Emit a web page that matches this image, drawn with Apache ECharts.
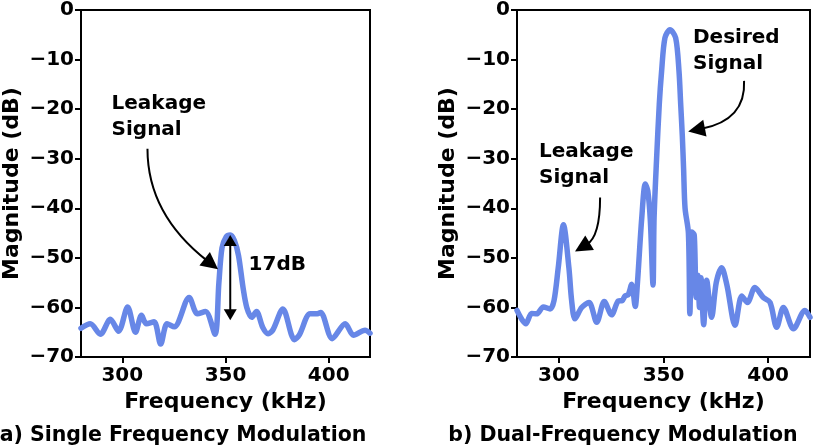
<!DOCTYPE html>
<html>
<head>
<meta charset="utf-8">
<script src="https://cdn.jsdelivr.net/npm/echarts@6/dist/echarts.min.js"></script>
<style>
  body { margin: 0; background: #fff; }
  #main { width: 820px; height: 447px; }
</style>
</head>
<body>
<div id="main"></div>
<script>
// spectrum a) single frequency modulation
const freqA = [280, 284.5, 289.4, 294.2, 298.2, 302.6, 306.4, 309.3, 311.7, 315.4, 318.6, 321.7, 325.2,
  332.4, 336.4, 340.3, 344.9, 346.8, 348.3, 350.3, 352.3, 354.3, 356.3, 358.5, 360.3, 362.7, 365.0,
  368.0, 370.6, 373.0, 377.8, 383.4, 385.7, 391.0, 394.5, 396.1, 401.7, 408.0, 412.0, 417.6, 420];
const magA = [-64.2, -63.3, -65.4, -62.4, -64.8, -59.9, -65.0, -61.6, -63.3, -62.9, -67.4, -63.3, -63.9,
  -58.0, -61.3, -60.8, -65.4, -55.0, -48.0, -45.8, -45.4, -46.5, -49.5, -56.0, -60.0, -62.0, -60.8,
  -64.0, -65.3, -64.5, -60.3, -66.5, -65.6, -61.3, -61.3, -61.0, -66.3, -63.3, -65.6, -64.6, -65.2];

// spectrum b) dual-frequency modulation
const freqB = [280, 284.2, 287.0, 289.4, 292.6, 295.8, 297.7, 299.7, 302.2, 304.8, 306.1, 307.7, 310.9,
  314.4, 318.1, 321.7, 325.2, 328.4, 330.3, 331.6, 333.2, 334.8, 336.5, 337.4, 339.6, 341.3, 342.5,
  343.7, 345.0, 345.5, 346.7, 348.0, 349.1, 350.7, 353.1, 355.8, 357.4, 358.2, 359.0, 359.6, 360.3,
  361.9, 362.6, 363.6, 364.7, 365.6, 366.4, 367.2, 367.9, 369.2, 370.6, 373.0, 375.2, 377.8, 380.3,
  384.2, 387.4, 390.1, 393.7, 397.7, 400.9, 404.1, 407.3, 412.1, 417.6, 420];
const magB = [-60.6, -63.3, -61.2, -61.3, -59.9, -60.3, -58.6, -52.0, -43.3, -52.0, -58.6, -62.3, -60.0,
  -59.0, -63.0, -58.8, -61.5, -58.7, -58.6, -57.7, -57.4, -55.3, -59.8, -56.0, -42.0, -35.1, -36.5,
  -42.4, -55.5, -42.0, -30.0, -18.9, -12.3, -5.6, -4.0, -5.6, -12.3, -18.9, -25.5, -32.0, -40.0,
  -45.0, -61.3, -44.8, -45.4, -58.0, -53.5, -60.0, -54.0, -63.5, -54.5, -62.0, -55.0, -52.0, -55.5,
  -63.6, -57.7, -59.0, -56.0, -58.0, -59.0, -64.0, -60.0, -64.3, -60.6, -62.0];

const xTicks = [300, 350, 400];
const captions = ['a) Single Frequency Modulation', 'b) Dual-Frequency Modulation'];

// annotations, in data coordinates of each panel
const notes = [
  { grid: 0, at: [294.8, -21.5], text: 'Leakage\nSignal' },
  { grid: 0, at: [361.2, -51.5], text: '17dB' },
  { grid: 1, at: [364.1, -8.3], text: 'Desired\nSignal' },
  { grid: 1, at: [290.5, -31.3], text: 'Leakage\nSignal' }
];
const arrows = [
  { grid: 0, from: [312.2, -28.0], ctrl: [312.2, -41.2], to: [346.4, -52.3] },
  { grid: 1, from: [388.5, -14.3], ctrl: [389.4, -22.2], to: [361.8, -24.5] },
  { grid: 1, from: [319.7, -37.8], ctrl: [319.7, -45.7], to: [307.7, -48.7] }
];
const span = { grid: 0, x: 352.3, top: -45.4, bottom: -62.6 };

const FONT = 'DejaVu Sans';
const BLUE = '#6787e7';
const grids = [
  { left: 77, top: 5, width: 293, height: 352 },
  { left: 517, top: 5, width: 293, height: 352 }
];

const chart = echarts.init(document.getElementById('main'));

const minus = v => (v < 0 ? '\u2212' + Math.abs(v) : String(v));

chart.setOption({
  animation: false,
  backgroundColor: '#fff',
  grid: grids.map(g => Object.assign({ show: true, borderColor: '#000', borderWidth: 2 }, g)),
  xAxis: grids.map((g, i) => ({
    gridIndex: i,
    type: 'value',
    min: 280,
    max: 420,
    name: 'Frequency (kHz)',
    nameLocation: 'middle',
    nameGap: 33,
    nameTextStyle: { fontFamily: FONT, fontWeight: 'bold', fontSize: 22, color: '#000' },
    axisLine: { show: true, onZero: false, lineStyle: { color: '#000', width: 2 } },
    axisTick: { show: true, customValues: xTicks, length: 6, lineStyle: { color: '#000', width: 2 } },
    axisLabel: { customValues: xTicks, margin: 9, fontFamily: FONT, fontWeight: 'bold', fontSize: 20, color: '#000' },
    splitLine: { show: false }
  })),
  yAxis: grids.map((g, i) => ({
    gridIndex: i,
    type: 'value',
    min: -70,
    max: 0,
    interval: 10,
    name: 'Magnitude (dB)',
    nameLocation: 'middle',
    nameGap: 58,
    nameTextStyle: { fontFamily: FONT, fontWeight: 'bold', fontSize: 22, color: '#000' },
    axisLine: { show: true, onZero: false, lineStyle: { color: '#000', width: 2 } },
    axisTick: { show: true, length: 6, lineStyle: { color: '#000', width: 2 } },
    axisLabel: { margin: 7, formatter: minus, fontFamily: FONT, fontWeight: 'bold', fontSize: 20, color: '#000' },
    splitLine: { show: false }
  })),
  series: [
    [freqA, magA],
    [freqB, magB]
  ].map(([fx, my], i) => ({
    type: 'line',
    xAxisIndex: i,
    yAxisIndex: i,
    data: fx.map((f, k) => [f, my[k]]),
    showSymbol: false,
    smooth: 0.3,
    lineStyle: { color: BLUE, width: 5.5, cap: 'round', join: 'round' },
    itemStyle: { color: BLUE }
  }))
});

// helpers for the annotation layer
const toPx = (g, p) => chart.convertToPixel({ gridIndex: g }, p);

function head(tip, dir, len, hw) {
  const n = Math.hypot(dir[0], dir[1]);
  const ux = dir[0] / n, uy = dir[1] / n;
  const bx = tip[0] - ux * len, by = tip[1] - uy * len;
  return {
    type: 'polygon',
    z: 100,
    shape: { points: [tip, [bx - uy * hw, by + ux * hw], [bx + uy * hw, by - ux * hw]] },
    style: { fill: '#000' }
  };
}

const graphics = [];

captions.forEach((t, i) => {
  graphics.push({
    type: 'text',
    x: i === 0 ? 183 : 623,
    y: 436,
    z: 100,
    style: {
      text: t, font: 'bold 20.5px "DejaVu Sans"', fill: '#000',
      textAlign: 'center', textVerticalAlign: 'middle', align: 'center', verticalAlign: 'middle'
    }
  });
});

notes.forEach(n => {
  const p = toPx(n.grid, n.at);
  graphics.push({
    type: 'text',
    x: p[0],
    y: p[1],
    z: 100,
    style: {
      text: n.text, font: 'bold 20px "DejaVu Sans"', fill: '#000', lineHeight: 26,
      textAlign: 'left', textVerticalAlign: 'middle', align: 'left', verticalAlign: 'middle'
    }
  });
});

arrows.forEach(a => {
  const s = toPx(a.grid, a.from), c = toPx(a.grid, a.ctrl), e = toPx(a.grid, a.to);
  const dir = [e[0] - c[0], e[1] - c[1]];
  const n = Math.hypot(dir[0], dir[1]);
  const len = 17;
  const end = [e[0] - dir[0] / n * len * 0.8, e[1] - dir[1] / n * len * 0.8];
  graphics.push({
    type: 'bezierCurve',
    z: 100,
    shape: { x1: s[0], y1: s[1], x2: end[0], y2: end[1], cpx1: c[0], cpy1: c[1] },
    style: { stroke: '#000', lineWidth: 2, fill: null }
  });
  graphics.push(head(e, dir, len, 8.5));
});

// the 17dB double arrow
const t0 = toPx(span.grid, [span.x, span.top]);
const b0 = toPx(span.grid, [span.x, span.bottom]);
graphics.push({
  type: 'line',
  z: 100,
  shape: { x1: t0[0], y1: t0[1] + 8, x2: b0[0], y2: b0[1] - 8 },
  style: { stroke: '#000', lineWidth: 2 }
});
graphics.push(head(t0, [0, -1], 11, 6.5));
graphics.push(head(b0, [0, 1], 11, 6.5));

chart.setOption({ graphic: graphics });
</script>
</body>
</html>
